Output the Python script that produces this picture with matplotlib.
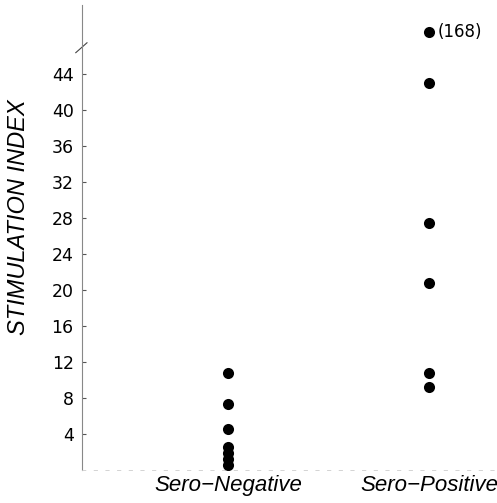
import matplotlib
matplotlib.use("Agg")
import matplotlib.pyplot as plt
from matplotlib.transforms import blended_transform_factory

# ── Data ─────────────────────────────────────────────────────────────────────
groups = ["Sero\u2212Negative", "Sero\u2212Positive"]
sero_negative = [10.8, 7.3, 4.5, 2.5, 1.9, 1.2, 0.5]
sero_positive = [168, 43.0, 27.5, 20.8, 10.8, 9.2]
y_ticks = [4, 8, 12, 16, 20, 24, 28, 32, 36, 40, 44]

# values above the axis break are drawn at the break row
break_at = 46.7
break_row = 48.7

plt.rcParams["font.family"] = ["DejaVu Sans"]
label_font = ["Liberation Sans", "DejaVu Sans"]

fig = plt.figure(figsize=(4.97, 5.03), dpi=100)
ax = fig.add_axes([0.165, 0.066, 0.835, 0.924])

for i, vals in enumerate([sero_negative, sero_positive], start=1):
    ys = [break_row if v > break_at else v for v in vals]
    ax.scatter([i] * len(ys), ys, s=64, color="black", zorder=3, linewidths=0)
    for v, y in zip(vals, ys):
        if v > break_at:
            ax.annotate(f"({v:g})", (i, y), xytext=(6, 0), textcoords="offset points",
                        va="center", ha="left", fontsize=12)

ax.set_xlim(0.274, 2.338)
ax.set_ylim(0, 51.7)

ax.set_yticks(y_ticks)
ax.set_yticklabels([str(t) for t in y_ticks], fontsize=12.5)
ax.tick_params(axis="y", direction="in", length=3, width=0.8, pad=6, color="#555555")
ax.set_xticks([1, 2])
ax.set_xticklabels(groups, fontsize=16, style="italic", family=label_font)
ax.tick_params(axis="x", length=0, pad=4)

ax.set_ylabel("STIMULATION INDEX", fontsize=17, style="italic", family=label_font,
              va="center")
ax.yaxis.set_label_coords(-0.154, 0.544)

for side in ["top", "right"]:
    ax.spines[side].set_visible(False)
ax.spines["left"].set_color("#888888")
ax.spines["left"].set_linewidth(0.8)
ax.spines["bottom"].set_color("#cccccc")
ax.spines["bottom"].set_linestyle((0, (4, 10)))
ax.spines["bottom"].set_linewidth(0.6)

# axis break slash
tr = blended_transform_factory(ax.transAxes, ax.transData)
ax.plot([-0.015, 0.012], [break_at - 0.3, break_at + 0.8], transform=tr,
        color="#444444", lw=0.8, clip_on=False)

fig.savefig("out.png", dpi=100)
